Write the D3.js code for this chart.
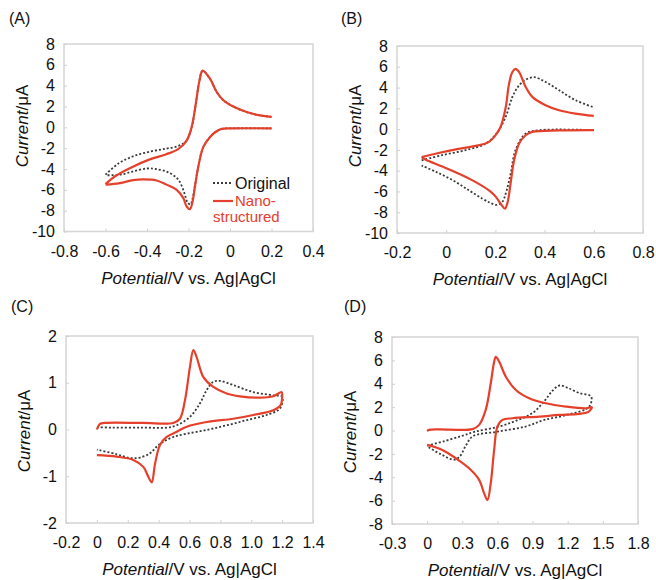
<!DOCTYPE html>
<head>
    <meta charset="utf-8">
    <script src="https://d3js.org/d3.v7.min.js"></script>
    <style>
        body { margin: 0; background: white; }
        text { font-family: "Liberation Sans", Arial, sans-serif; fill: #111; }
    </style>
</head>
<body>
    <div id="my_dataviz"></div>
    <script>
        // ---- data: [potential V, current uA]; null = pen up ----
        const panelLabels = ["(A)", "(B)", "(C)", "(D)"];

        const xTicksA = [-0.8, -0.6, -0.4, -0.2, 0, 0.2, 0.4];
        const xLabelsA = ["-0.8", "-0.6", "-0.4", "-0.2", "0", "0.2", "0.4"];
        const yTicksA = [8, 6, 4, 2, 0, -2, -4, -6, -8, -10];

        const xTicksB = [-0.2, 0, 0.2, 0.4, 0.6, 0.8];
        const xLabelsB = ["-0.2", "0", "0.2", "0.4", "0.6", "0.8"];
        const yTicksB = [8, 6, 4, 2, 0, -2, -4, -6, -8, -10];

        const xTicksC = [-0.2, 0, 0.2, 0.4, 0.6, 0.8, 1.0, 1.2, 1.4];
        const xLabelsC = ["-0.2", "0", "0.2", "0.4", "0.6", "0.8", "1.0", "1.2", "1.4"];
        const yTicksC = [2, 1, 0, -1, -2];

        const xTicksD = [-0.3, 0, 0.3, 0.6, 0.9, 1.2, 1.5, 1.8];
        const xLabelsD = ["-0.3", "0", "0.3", "0.6", "0.9", "1.2", "1.5", "1.8"];
        const yTicksD = [8, 6, 4, 2, 0, -2, -4, -6, -8];

        const nanoA = [[-0.6,-5.45],[-0.55,-4.65],[-0.47,-3.8],[-0.39,-3.1],[-0.31,-2.6],[-0.25,-2.1],[-0.21,-1.3],
            [-0.185,0.0],[-0.163,2.5],[-0.148,4.4],[-0.132,5.45],[-0.096,4.66],[-0.064,3.39],[-0.032,2.6],[0.016,2.0],
            [0.08,1.47],[0.145,1.15],[0.2,1.0], null,
            [0.2,-0.1],[0.0,-0.1],[-0.04,-0.15],[-0.07,-0.45],[-0.096,-0.92],[-0.129,-1.9],[-0.153,-3.8],[-0.169,-5.7],
            [-0.18,-7.1],[-0.193,-7.85],[-0.209,-7.6],[-0.225,-6.8],[-0.257,-6.0],[-0.306,-5.5],[-0.354,-5.1],
            [-0.418,-5.0],[-0.467,-5.07],[-0.531,-5.35],[-0.6,-5.5]];
        const origA = [[-0.6,-4.55],[-0.54,-3.5],[-0.47,-2.8],[-0.39,-2.35],[-0.31,-2.05],[-0.25,-1.8],[-0.21,-1.3],
            [-0.185,0.0],[-0.163,2.5],[-0.148,4.4],[-0.132,5.4],[-0.096,4.66],[-0.064,3.39],[-0.032,2.6],[0.016,2.0],
            [0.08,1.47],[0.145,1.15],[0.2,1.0], null,
            [0.2,-0.1],[0.0,-0.1],[-0.04,-0.15],[-0.07,-0.45],[-0.096,-0.92],[-0.129,-1.9],[-0.153,-3.8],[-0.169,-5.6],
            [-0.18,-6.8],[-0.19,-7.4],[-0.205,-7.2],[-0.22,-6.3],[-0.25,-5.0],[-0.3,-4.3],[-0.36,-4.0],[-0.4,-3.95],
            [-0.47,-4.25],[-0.53,-4.55],[-0.6,-4.6]];

        const nanoB = [[-0.1,-2.7],[-0.04,-2.35],[0.05,-1.9],[0.12,-1.62],[0.174,-1.23],[0.2,-0.6],[0.221,0.2],
            [0.242,2.1],[0.255,4.3],[0.269,5.5],[0.282,5.8],[0.296,5.5],[0.323,4.06],[0.35,3.1],[0.404,2.3],
            [0.459,1.81],[0.526,1.49],[0.6,1.27], null,
            [0.6,-0.1],[0.46,-0.13],[0.35,-0.27],[0.323,-0.59],[0.296,-1.4],[0.276,-3.0],[0.262,-5.2],[0.249,-7.1],
            [0.239,-7.65],[0.225,-7.3],[0.201,-6.5],[0.174,-5.9],[0.12,-5.1],[0.052,-4.3],[-0.016,-3.6],
            [-0.083,-2.95],[-0.1,-2.7]];
        const origB = [[-0.1,-3.0],[-0.016,-2.5],[0.079,-2.03],[0.16,-1.4],[0.205,-0.4],[0.242,1.2],[0.269,3.1],
            [0.296,4.2],[0.323,4.76],[0.357,5.0],[0.404,4.54],[0.459,3.74],[0.526,2.78],[0.6,2.1], null,
            [0.6,-0.1],[0.38,-0.1],[0.323,-0.43],[0.282,-2.0],[0.262,-4.3],[0.242,-6.2],[0.228,-7.0],[0.205,-7.3],
            [0.18,-7.1],[0.147,-6.7],[0.093,-5.9],[0.025,-4.9],[-0.043,-4.1],[-0.1,-3.5]];

        const nanoC = [[0.0,0.0],[0.02,0.12],[0.05,0.14],[0.3,0.14],[0.495,0.14],[0.538,0.23],[0.571,0.63],
            [0.603,1.34],[0.625,1.7],[0.646,1.55],[0.69,1.12],[0.754,0.91],[0.841,0.77],[0.927,0.71],[1.057,0.68],
            [1.143,0.71],[1.197,0.8],[1.2,0.7],[1.19,0.52],[1.143,0.41],[1.014,0.31],[0.884,0.23],[0.711,0.16],
            [0.582,0.06],[0.517,-0.05],[0.452,-0.16],[0.409,-0.33],[0.377,-0.73],[0.355,-1.13],[0.333,-1.01],
            [0.301,-0.8],[0.236,-0.65],[0.128,-0.58],[0.0,-0.55]];
        const origC = [[0.0,0.05],[0.1,0.04],[0.3,0.04],[0.452,0.04],[0.517,0.09],[0.603,0.27],[0.668,0.56],
            [0.711,0.84],[0.754,1.02],[0.798,1.04],[0.884,0.95],[1.014,0.8],[1.143,0.73],[1.2,0.7],[1.186,0.45],
            [1.1,0.31],[0.97,0.2],[0.841,0.09],[0.711,-0.01],[0.582,-0.09],[0.495,-0.16],[0.431,-0.26],
            [0.387,-0.37],[0.344,-0.51],[0.279,-0.6],[0.214,-0.61],[0.128,-0.53],[0.0,-0.43]];

        const nanoD = [[0.0,-0.05],[0.016,0.05],[0.1,0.1],[0.387,0.12],[0.444,0.48],[0.5,1.76],[0.543,4.04],
            [0.572,5.89],[0.586,6.3],[0.615,5.89],[0.672,4.6],[0.757,3.47],[0.871,2.76],[1.013,2.33],[1.184,2.05],
            [1.355,1.9],[1.406,1.99],[1.38,1.62],[1.298,1.42],[1.127,1.33],[0.956,1.19],[0.728,1.05],[0.643,0.91],
            [0.6,0.34],[0.572,-1.66],[0.543,-4.51],[0.515,-5.95],[0.486,-5.36],[0.444,-4.22],[0.358,-3.23],
            [0.244,-2.37],[0.13,-1.66],[0.0,-1.23]];
        const origD = [[0.0,-1.3],[0.15,-0.9],[0.3,-0.45],[0.41,-0.1],[0.6,0.3],[0.75,0.8],[0.9,1.5],[1.0,2.5],
            [1.07,3.4],[1.13,3.85],[1.2,3.65],[1.3,3.2],[1.4,2.9],[1.38,2.0],[1.2,1.35],[1.0,0.9],[0.84,0.34],
            [0.6,-0.1],[0.39,-0.5],[0.33,-1.3],[0.28,-2.2],[0.23,-2.5],[0.12,-2.05],[0.0,-1.35]];

        // ---- layout ----
        const red = "#e5402b";
        const panels = [
            { label: panelLabels[0], box: [64, 313, 44, 231.5], labelPos: [9, 24], yTitleY: 126, xt: xTicksA, xl: xLabelsA, yt: yTicksA, nano: nanoA, orig: origA, legend: true },
            { label: panelLabels[1], box: [397, 643, 46, 233], labelPos: [341, 24], yTitleY: 126, xt: xTicksB, xl: xLabelsB, yt: yTicksB, nano: nanoB, orig: origB },
            { label: panelLabels[2], box: [66, 313, 336, 523], labelPos: [11, 312], yTitleY: 431, xt: xTicksC, xl: xLabelsC, yt: yTicksC, nano: nanoC, orig: origC },
            { label: panelLabels[3], box: [392, 638, 337, 524], labelPos: [344, 312], yTitleY: 432, xt: xTicksD, xl: xLabelsD, yt: yTicksD, nano: nanoD, orig: origD }
        ];

        var svg = d3.select("#my_dataviz")
            .append("svg")
            .attr("width", 656)
            .attr("height", 580);

        panels.forEach(function (p) {
            var [x0, x1, y0, y1] = p.box;
            var x = d3.scaleLinear().domain(d3.extent(p.xt)).range([x0, x1]);
            var y = d3.scaleLinear().domain(d3.extent(p.yt)).range([y1, y0]);

            svg.append("text")
                .attr("x", p.labelPos[0]).attr("y", p.labelPos[1])
                .style("font-size", "16px")
                .text(p.label);

            // frame
            svg.append("rect")
                .attr("x", x0).attr("y", y0)
                .attr("width", x1 - x0).attr("height", y1 - y0)
                .attr("fill", "none")
                .attr("stroke", "#d8d8d8")
                .attr("stroke-width", 1.6);

            // axes
            var gx = svg.append("g")
                .attr("transform", "translate(0," + y1 + ")")
                .call(d3.axisBottom(x).tickValues(p.xt)
                    .tickFormat(function (d, i) { return p.xl[i]; })
                    .tickSizeInner(-3).tickSizeOuter(0).tickPadding(14));
            var gy = svg.append("g")
                .attr("transform", "translate(" + x0 + ",0)")
                .call(d3.axisLeft(y).tickValues(p.yt)
                    .tickFormat(function (d) { return String(d); })
                    .tickSizeInner(-3).tickSizeOuter(0).tickPadding(9));
            [gx, gy].forEach(function (g) {
                g.select(".domain").remove();
                g.selectAll(".tick line").attr("stroke", "#d0d0d0");
                g.selectAll(".tick text")
                    .style("font-size", "16px")
                    .style("font-family", "'Liberation Sans', Arial, sans-serif")
                    .attr("fill", "#111");
            });

            // axis titles
            var xt = svg.append("text")
                .attr("x", (x0 + x1) / 2).attr("y", y1 + 52)
                .attr("text-anchor", "middle")
                .style("font-size", "17px");
            xt.append("tspan").style("font-style", "italic").text("Potential");
            xt.append("tspan").text("/V vs. Ag|AgCl");

            var yt = svg.append("text")
                .attr("transform", "translate(" + (x0 - 36) + "," + p.yTitleY + ") rotate(-90)")
                .attr("text-anchor", "middle")
                .style("font-size", "17px");
            yt.append("tspan").style("font-style", "italic").text("Current");
            yt.append("tspan").text("/\u03bcA");

            var line = d3.line()
                .defined(function (d) { return d !== null; })
                .x(function (d) { return x(d[0]); })
                .y(function (d) { return y(d[1]); })
                .curve(d3.curveCatmullRom.alpha(0.5));

            svg.append("path")
                .datum(p.orig)
                .attr("d", line)
                .attr("fill", "none")
                .attr("stroke", "#3a3a3a")
                .attr("stroke-width", 1.8)
                .attr("stroke-dasharray", "2,2");

            svg.append("path")
                .datum(p.nano)
                .attr("d", line)
                .attr("fill", "none")
                .attr("stroke", red)
                .attr("stroke-width", 2.2);

            if (p.legend) {
                svg.append("line")
                    .attr("x1", 213).attr("x2", 233).attr("y1", 183).attr("y2", 183)
                    .attr("stroke", "#3a3a3a").attr("stroke-width", 1.8).attr("stroke-dasharray", "2,2");
                svg.append("text").attr("x", 235).attr("y", 189)
                    .style("font-size", "16px").text("Original");
                svg.append("line")
                    .attr("x1", 213).attr("x2", 233).attr("y1", 201).attr("y2", 201)
                    .attr("stroke", red).attr("stroke-width", 2.2);
                svg.append("text").attr("x", 235).attr("y", 206)
                    .style("font-size", "15px").style("fill", red).text("Nano-");
                svg.append("text").attr("x", 213).attr("y", 222)
                    .style("font-size", "15px").style("fill", red).text("structured");
            }
        });
    </script>
</body>
</html>
